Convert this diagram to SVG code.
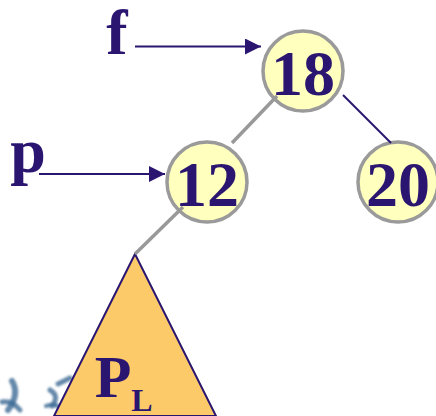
<svg xmlns="http://www.w3.org/2000/svg" width="436" height="416" viewBox="0 0 436 416">
<defs>
<style>
.node{fill:#ffffbe;stroke:#9a9a9a;stroke-width:3.5}
.lbl{font-family:"Liberation Serif","Times New Roman",serif;font-weight:bold;fill:#2a1670;text-anchor:middle}
.gray{stroke:#999;stroke-width:3.5;fill:none}
.dark{stroke:#2a1670;stroke-width:2;fill:none}
.deco{stroke:#3d6b95;fill:none;stroke-linecap:round;opacity:0.8}
</style>
<marker id="ah" markerWidth="8" markerHeight="8" refX="8" refY="4" orient="auto" markerUnits="strokeWidth"><path d="M0,0 L8,4 L0,8 Z" fill="#2a1670"/></marker>
<filter id="blur"><feGaussianBlur stdDeviation="1"/></filter>
</defs>
<g id="decoration" filter="url(#blur)">
<path class="deco" stroke-width="6" d="M12,381 Q20,394 8,410"/>
<path class="deco" stroke-width="5" d="M2,402 Q12,400 20,410"/>
<path class="deco" stroke-width="5" d="M50,390 Q60,396 52,406"/>
<path class="deco" stroke-width="5" d="M58,384 L70,378"/>
<path class="deco" stroke-width="4" d="M46,406 Q58,402 64,412"/>
</g>
<g id="nodes-bg">
<g id="node18"><circle class="node" cx="303" cy="71" r="40"/><text class="lbl" x="303" y="95" font-size="64">18</text></g>
<g id="node12"><circle class="node" cx="207" cy="182" r="40"/><text class="lbl" x="207" y="206" font-size="64">12</text></g>
<g id="node20"><circle class="node" cx="398" cy="182" r="40"/><text class="lbl" x="398" y="206" font-size="64">20</text></g>
<g id="subtreePL"><polygon points="135,254 54,416 216,416" fill="#fdca6a" stroke="#2a1670" stroke-width="2"/><text class="lbl" x="113" y="397" font-size="60">P</text><text class="lbl" x="142" y="411" font-size="32">L</text></g>
<g id="ptr-f"><text class="lbl" x="117" y="54" font-size="64">f</text></g>
<g id="ptr-p"><text class="lbl" x="28" y="172" font-size="64">p</text></g>
</g>
<g id="connectors">
<line class="gray" x1="277" y1="96" x2="232" y2="143"/>
<line class="dark" x1="343" y1="95" x2="391" y2="143"/>
<line class="gray" x1="183" y1="207" x2="135" y2="254"/>
<line class="dark" x1="135" y1="46.5" x2="261" y2="46.5" marker-end="url(#ah)"/>
<line class="dark" x1="39" y1="174" x2="165" y2="174" marker-end="url(#ah)"/>
</g>
</svg>
